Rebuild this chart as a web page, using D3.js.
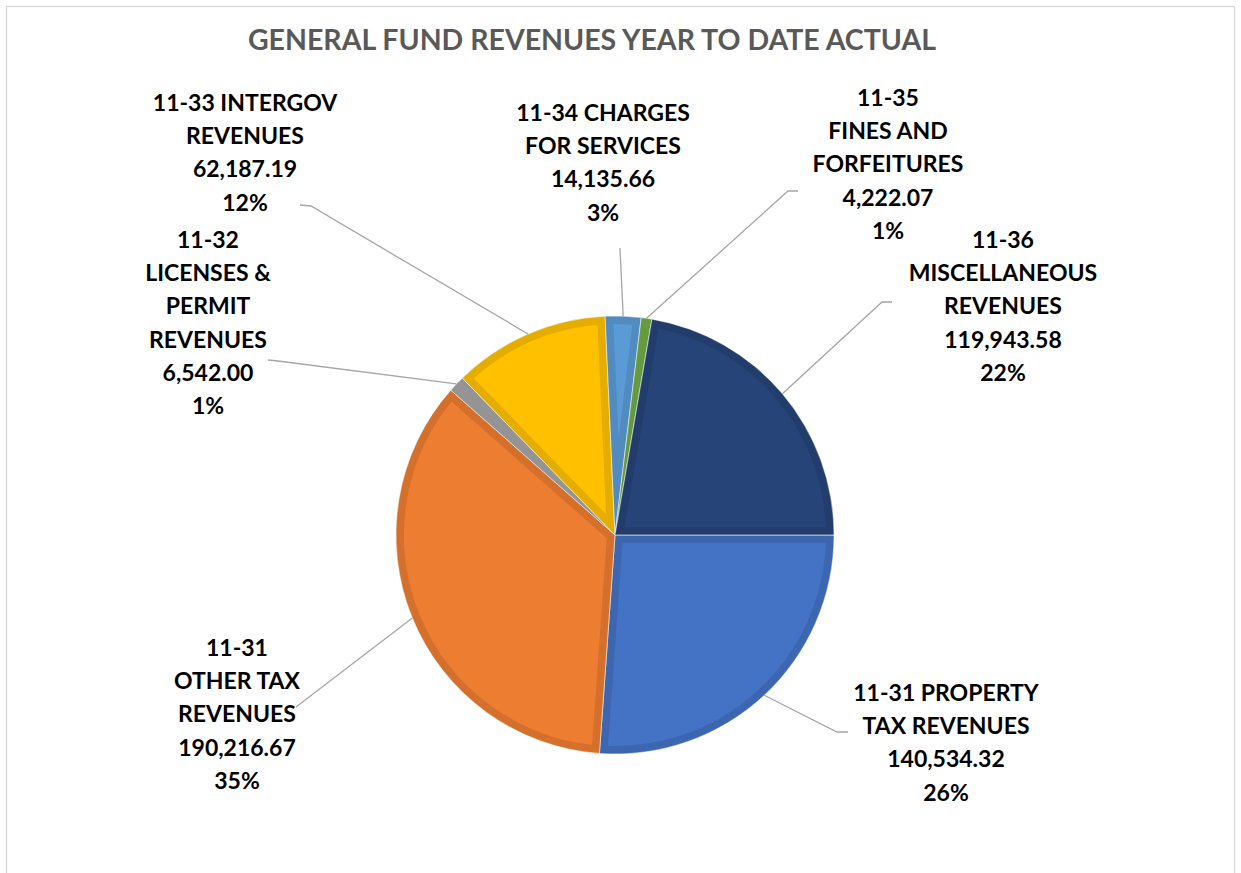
<!DOCTYPE html>
<html>
<head>
<meta charset="utf-8">
<script src="https://cdn.jsdelivr.net/npm/d3@7"></script>
<style>
  body { margin: 0; background: #fff; }
  svg { display: block; font-family: Lato, "Open Sans", sans-serif; }
</style>
</head>
<body>
<svg width="1241" height="873"></svg>
<script>
// Data
var categories = [
    ["11-31 PROPERTY", "TAX REVENUES"],
    ["11-31", "OTHER TAX", "REVENUES"],
    ["11-32", "LICENSES &", "PERMIT", "REVENUES"],
    ["11-33 INTERGOV", "REVENUES"],
    ["11-34 CHARGES", "FOR SERVICES"],
    ["11-35", "FINES AND", "FORFEITURES"],
    ["11-36", "MISCELLANEOUS", "REVENUES"]
];
var values = [140534.32, 190216.67, 6542.00, 62187.19, 14135.66, 4222.07, 119943.58];
var colors = ["#4472C4", "#ED7D31", "#A5A5A5", "#FFC000", "#5B9BD5", "#70AD47", "#264478"];
var title = "GENERAL FUND REVENUES YEAR TO DATE ACTUAL";

// label layout: centre x, first line y, leader start and elbow
var labelLayout = [
    {x: 946, y: 693, sx: 848, sy: 732, ex: 837, ey: 732},
    {x: 237, y: 648, sx: 296, sy: 707, ex: 296, ey: 707},
    {x: 208, y: 240, sx: 268, sy: 360, ex: 278, ey: 361},
    {x: 245, y: 103, sx: 300, sy: 205, ex: 311, ey: 206},
    {x: 603, y: 113, sx: 620, sy: 248, ex: 620, ey: 249},
    {x: 888, y: 98,  sx: 798, sy: 191, ex: 788, ey: 191},
    {x: 1003, y: 240, sx: 892, sy: 302, ex: 882, ey: 302}
];

var svg = d3.select("svg"),
    width = +svg.attr("width"),
    height = +svg.attr("height");

// chart frame
svg.append("rect")
    .attr("x", 6.5).attr("y", 6.5)
    .attr("width", 1228).attr("height", 900)
    .attr("fill", "#fff")
    .attr("stroke", "#d9d9d9")
    .attr("stroke-width", 1.3);

svg.append("text")
    .attr("x", 592).attr("y", 50)
    .attr("text-anchor", "middle")
    .attr("fill", "#595959")
    .style("font-size", "28.5px")
    .style("font-weight", "bold")
    .text(title);

var cx = 615, cy = 535, r = 219;
var total = d3.sum(values);
var fmt = d3.format(",.2f");

// Excel starts this pie at 3 o'clock, going clockwise
var pie = d3.pie().sort(null).startAngle(Math.PI / 2).endAngle(Math.PI * 2.5);
var arcs = pie(values);
var arc = d3.arc().innerRadius(0).outerRadius(r);

var g = svg.append("g").attr("transform", "translate(" + cx + "," + cy + ")");

var defs = svg.append("defs");
arcs.forEach(function(d, i) {
    defs.append("clipPath").attr("id", "clip" + i)
        .append("path").attr("d", arc(d));
});

var slices = g.selectAll("g.slice")
    .data(arcs)
    .enter().append("g")
    .attr("class", "slice");

// darker bevel band around each slice
slices.append("path")
    .attr("d", arc)
    .attr("fill", function(d, i) { return colors[i]; })
    .attr("stroke", function(d, i) { return d3.color(colors[i]).darker(0.3); })
    .attr("stroke-width", 16)
    .attr("stroke-linejoin", "round")
    .attr("clip-path", function(d, i) { return "url(#clip" + i + ")"; });

// thin light seams between slices
slices.append("path")
    .attr("d", arc)
    .attr("fill", "none")
    .attr("stroke", "rgba(255,255,255,0.55)")
    .attr("stroke-width", 1);

// leader lines
arcs.forEach(function(d, i) {
    var a = (d.startAngle + d.endAngle) / 2;
    var px = cx + r * Math.sin(a), py = cy - r * Math.cos(a);
    var L = labelLayout[i];
    svg.append("polyline")
        .attr("points", [[L.sx, L.sy], [L.ex, L.ey], [px, py]].map(function(p) { return p.join(","); }).join(" "))
        .attr("fill", "none")
        .attr("stroke", "#a6a6a6")
        .attr("stroke-width", 1.3);
});

// data labels
arcs.forEach(function(d, i) {
    var L = labelLayout[i];
    var lines = categories[i].concat([fmt(values[i]), Math.round(values[i] / total * 100) + "%"]);
    var t = svg.append("text")
        .attr("text-anchor", "middle")
        .attr("fill", "#000")
        .style("font-size", "23px")
        .style("font-weight", "bold");
    lines.forEach(function(s, k) {
        t.append("tspan")
            .attr("x", L.x)
            .attr("y", L.y + k * 33.2)
            .attr("dy", "0.35em")
            .text(s);
    });
});
</script>
</body>
</html>
